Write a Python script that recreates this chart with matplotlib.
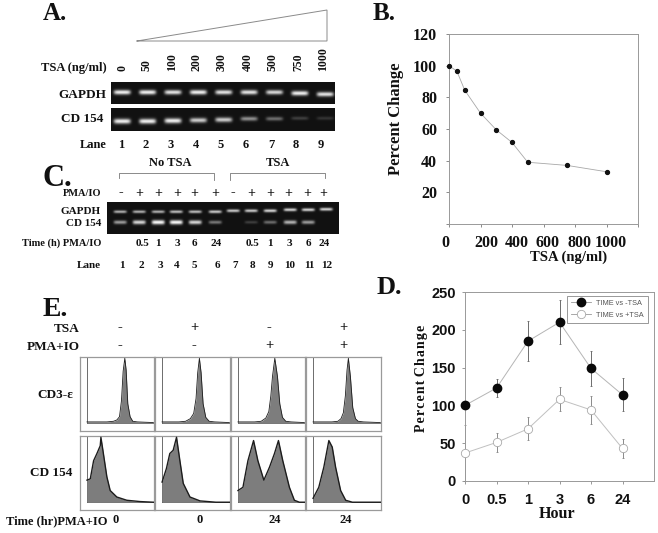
import numpy as np
import matplotlib
matplotlib.use("Agg")
import matplotlib.pyplot as plt
from matplotlib.transforms import ScaledTranslation

SERIF = "Liberation Serif"
SANS = "Liberation Sans"

# Panel A
tsa_doses = ["0", "50", "100", "200", "300", "400", "500", "750", "1000"]
lanes_a = ["1", "2", "3", "4", "5", "6", "7", "8", "9"]
gapdh_a = [0.95, 0.95, 0.9, 0.95, 0.9, 0.9, 0.85, 0.95, 0.9]
cd154_a = [0.95, 0.95, 0.95, 0.8, 0.8, 0.55, 0.4, 0.2, 0.15]

# Panel B
b_x = [0, 50, 100, 200, 300, 400, 500, 750, 1000]
b_y = [100, 96.5, 84.5, 70, 59.5, 51.5, 39, 37, 33]

# Panel C
c_signs = ["-", "+", "+", "+", "+", "+", "-", "+", "+", "+", "+", "+"]
c_times = ["0.5", "1", "3", "6", "24", "0.5", "1", "3", "6", "24"]
lanes_c = ["1", "2", "3", "4", "5", "6", "7", "8", "9", "10", "11", "12"]
gapdh_c = [0.7, 0.7, 0.7, 0.75, 0.75, 0.8, 0.8, 0.8, 0.85, 0.85, 0.85, 0.85]
cd154_c = [0.6, 0.85, 1.0, 1.0, 0.85, 0.45, 0.0, 0.2, 0.4, 0.7, 0.6, 0.0]

# Panel D
hours = ["0", "0.5", "1", "3", "6", "24"]
minus_tsa = [100, 123, 185, 210, 149, 114]
minus_err = [0, 12, 26, 29, 23, 22]
plus_tsa = [37, 51, 69, 108, 94, 43]
plus_err = [37, 12, 15, 16, 19, 12]

# Panel E
e_tsa = ["-", "+", "-", "+"]
e_pma = ["-", "-", "+", "+"]
e_times = ["0", "0", "24", "24"]
cd3_x = [
    [0, 300, 400, 450, 490, 520, 545, 570, 590, 615, 650, 690, 760, 1000],
    [0, 250, 350, 420, 470, 505, 530, 555, 580, 610, 650, 700, 780, 1000],
    [0, 250, 350, 420, 465, 495, 520, 555, 595, 630, 670, 720, 800, 1000],
    [0, 280, 370, 415, 450, 480, 505, 525, 555, 590, 630, 670, 750, 1000],
]
cd3_y = [
    [2, 2, 3, 5, 10, 35, 80, 100, 82, 30, 10, 3, 2, 1],
    [2, 2, 3, 7, 15, 38, 78, 100, 78, 30, 9, 3, 2, 1],
    [2, 2, 3, 8, 18, 42, 72, 100, 72, 30, 9, 3, 2, 1],
    [2, 2, 3, 7, 16, 42, 82, 100, 72, 24, 7, 3, 2, 1],
]
cd154_x = [
    [0, 50, 100, 150, 200, 210, 240, 300, 350, 450, 600, 800, 1000],
    [0, 65, 115, 165, 215, 265, 315, 415, 565, 800, 1000],
    [0, 75, 150, 235, 300, 390, 475, 550, 610, 675, 775, 850, 925, 1000],
    [0, 85, 160, 235, 285, 335, 410, 485, 585, 1000],
]
cd154_y = [
    [34, 36, 64, 75, 87, 100, 80, 39, 18, 8, 3, 1, 0],
    [31, 52, 75, 80, 100, 64, 29, 8, 2, 0, 0],
    [18, 23, 64, 95, 64, 34, 54, 75, 95, 64, 23, 3, 0, 0],
    [6, 23, 54, 95, 85, 54, 18, 3, 0, 0],
]

W, H = 658, 533
fig = plt.figure(figsize=(W / 100, H / 100), dpi=100, facecolor="white")


def px_axes(x0, y0, x1, y1, **kw):
    return fig.add_axes([x0 / W, 1 - y1 / H, (x1 - x0) / W, (y1 - y0) / H], **kw)


ov = px_axes(0, 0, W, H)
ov.set_xlim(0, W)
ov.set_ylim(H, 0)
ov.axis("off")


def T(x, y, s, size=9, ha="center", family=SERIF, rot=0, va="center", color="#111111", weight="bold"):
    ov.text(x, y, s, fontsize=size, ha=ha, va=va, family=family, rotation=rot,
            color=color, fontweight=weight, rotation_mode="anchor" if rot else "default")


def gel(x0, y0, x1, y1, rows):
    """rows: (lane x positions, band y positions, intensities, half width, half height)"""
    xs = np.arange(x0, x1, 0.5)
    ys = np.arange(y0, y1, 0.5)
    X, Y = np.meshgrid(xs, ys)
    img = np.zeros_like(X)
    for lx, ly, vals, hw, hh in rows:
        for a, b, v in zip(lx, ly, vals):
            h = hh * (0.55 + 0.45 * v)
            img += v * np.exp(-((X - a) / hw) ** 6) * np.exp(-((Y - b) / h) ** 2)
    img = np.clip(img, 0, 1)
    ov.imshow(img * 0.92 + 0.07, extent=(x0, x1, y1, y0), cmap="gray", vmin=0, vmax=1,
              aspect="auto", interpolation="bilinear", zorder=1)
    ov.set_xlim(0, W)
    ov.set_ylim(H, 0)


# ---------- A ----------
T(43, 14, "A.", 18, ha="left")
ov.plot([137, 327, 327, 137], [41, 10, 41, 41], color="#8a8a8a", lw=0.7, solid_joinstyle="miter")
T(107, 68, "TSA (ng/ml)", 9, ha="right")
xa = np.linspace(122, 325, 9)
for zx, s in zip([122, 147, 172, 197, 222, 248, 273, 298, 323], tsa_doses):
    T(zx, 71, s, 8.5, ha="left", rot=90)
gel(111, 82, 335, 104, [(xa, [92] * 7 + [93, 94], gapdh_a, 8.5, 2.4)])
gel(111, 108, 335, 131, [(xa, [121, 121, 120.5, 120, 119.5, 118.5, 118.5, 118, 118], cd154_a, 8.5, 2.6)])
T(106, 95, "GAPDH", 9.5, ha="right")
T(103, 119, "CD 154", 9.5, ha="right")
T(107, 145, "Lane", 9, ha="right")
for x, s in zip(np.linspace(121, 321, 9), lanes_a):
    T(x, 145, s, 9)

# ---------- B ----------
T(373, 14, "B.", 18, ha="left")
axb = px_axes(449, 34, 638, 224)
axb.plot(b_x, b_y, color="#a8a8a8", lw=0.6, zorder=2, clip_on=False)
axb.plot(b_x, b_y, ls="none", marker="o", ms=2.8, color="#111111", zorder=3, clip_on=False)
axb.set_xlim(0, 1200)
axb.set_ylim(0, 120)
axb.set_xticks([0, 200, 400, 600, 800, 1000, 1200])
axb.set_xticklabels(["0", "200", "400", "600", "800", "1000", ""], family=SERIF, fontweight="bold", fontsize=11.5, color="#111111")
axb.set_yticks([0, 20, 40, 60, 80, 100, 120])
axb.set_yticklabels(["", "20", "40", "60", "80", "100", "120"], family=SERIF, fontweight="bold", fontsize=11.5, color="#111111")
axb.tick_params(axis="x", length=2.5, width=0.6, color="#777777", pad=5.5)
axb.tick_params(axis="y", length=2, width=0.6, color="#777777", pad=6.5)
for lab, dx in zip(axb.get_xticklabels(), [-4, 6, 5, 4, 5, 4, 0]):
    lab.set_transform(lab.get_transform() + ScaledTranslation(dx / 100, 0, fig.dpi_scale_trans))
for sp in axb.spines.values():
    sp.set_linewidth(0.7)
    sp.set_color("#999999")
T(569, 257, "TSA (ng/ml)", 10.5)
T(396, 119, "Percent Change", 12, rot=90, va="center")

# ---------- C ----------
T(43, 178, "C.", 22, ha="left")
T(170, 163, "No TSA", 9)
T(278, 163, "TSA", 9)
ov.plot([119, 119, 214, 214], [178, 173, 173, 180], color="#777777", lw=0.6)
ov.plot([230, 230, 325, 325], [180, 173, 173, 178], color="#777777", lw=0.6)
T(101, 194, "PMA/IO", 7.5, ha="right")
for x, s in zip([121, 139, 158, 177, 194, 215, 233, 251, 270, 288, 307, 323], c_signs):
    T(x, 193, s, 10)
xc = [120, 139, 158, 176, 195, 215, 233, 251, 270, 290, 308, 326]
gel(107, 202, 339, 234, [
    (xc, [211.5] * 6 + [210.5, 210.5, 210.5, 209.5, 209.5, 209], gapdh_c, 6.5, 1.6),
    (xc, [222] * 12, cd154_c, 6.5, 2.2),
])
T(101, 212, "GAPDH", 8, ha="right")
T(101, 224, "CD 154", 8, ha="right")
T(101, 243, "Time (h) PMA/IO", 7.5, ha="right")
for x, s in zip([142, 158, 177, 194, 216, 252, 270, 289, 308, 324], c_times):
    T(x, 243, s, 8)
T(101, 265, "Lane", 8, ha="right")
for x, s in zip([122, 141, 160, 177, 194, 217, 235, 252, 271, 290, 309, 327], lanes_c):
    T(x, 265, s, 8)

# ---------- D ----------
T(377, 287, "D.", 19, ha="left")
axd = px_axes(465, 292, 654, 481)
pos = np.arange(len(hours))
axd.errorbar(pos, minus_tsa, yerr=minus_err, fmt="none", ecolor="#555555", elinewidth=0.6,
             capsize=1, capthick=0.5, clip_on=False, zorder=2)
axd.errorbar(pos, plus_tsa, yerr=plus_err, fmt="none", ecolor="#777777", elinewidth=0.6,
             capsize=1, capthick=0.5, clip_on=False, zorder=2)
axd.plot(pos[:5], minus_tsa[:5], color="#b5b5b5", lw=0.7, zorder=1)
axd.plot(pos, plus_tsa, color="#c0c0c0", lw=0.7, zorder=1)
axd.plot(pos[4:], minus_tsa[4:], color="#b5b5b5", lw=0.7, zorder=1)
axd.plot(pos, minus_tsa, ls="none", marker="o", ms=6, mfc="#0a0a0a", mec="#0a0a0a", clip_on=False, zorder=4)
axd.plot(pos, plus_tsa, ls="none", marker="o", ms=6, mfc="white", mec="#aaaaaa", mew=0.6, clip_on=False, zorder=4)
h1, = axd.plot([], [], color="#999999", lw=0.6, marker="o", ms=6, mfc="#0a0a0a", mec="#0a0a0a")
h2, = axd.plot([], [], color="#999999", lw=0.6, marker="o", ms=6, mfc="white", mec="#aaaaaa", mew=0.6)
leg = axd.legend([h1, h2], ["TIME vs -TSA", "TIME vs +TSA"], loc="upper left",
                 bbox_to_anchor=(102 / 189, 1 - 3.5 / 189), borderaxespad=0,
                 frameon=True, fancybox=False, edgecolor="#888888", framealpha=1,
                 handlelength=2.6, handletextpad=0.7, labelspacing=0.6, borderpad=0.6,
                 prop={"family": SANS, "size": 5.3})
leg.get_frame().set_linewidth(0.6)
for t in leg.get_texts():
    t.set_color("#555555")
axd.set_xlim(0, 6)
axd.set_ylim(0, 250)
axd.set_xticks(pos)
axd.set_xticklabels(hours, family=SANS, fontweight="bold", fontsize=10.5, color="#111111")
axd.set_yticks([0, 50, 100, 150, 200, 250])
axd.set_yticklabels(["0", "50", "100", "150", "200", "250"], family=SANS, fontweight="bold", fontsize=10.5, color="#111111")
axd.tick_params(axis="x", length=2, width=0.6, color="#888888", pad=6.7)
axd.tick_params(axis="y", length=2, width=0.6, color="#888888", pad=4.5)
for sp in axd.spines.values():
    sp.set_linewidth(0.7)
    sp.set_color("#999999")
T(421, 378, "P e r c e n t  C h a n g e".replace(" ", "\u200a").replace("\u200a\u200a", " "), 10, rot=90)
T(557, 514, "Hour", 11.5)
T(603, 357, "P<0,001", 9, ha="left")

# ---------- E ----------
T(43, 309, "E.", 20, ha="left")
T(80, 329, "TSA", 9.5, ha="right")
T(80, 347, "PMA+IO", 9.5, ha="right")
for x, a, b in zip([120, 194, 269, 343], e_tsa, e_pma):
    T(x, 328, a, 10.5)
    T(x, 346, b, 10.5)
T(73, 395, "CD3-\u03b5", 9.5, ha="right")
T(72, 473, "CD 154", 9.5, ha="right")
T(6, 521, "Time (hr)PMA+IO", 9, ha="left")
for x, s in zip([116, 200, 275, 346], e_times):
    T(x, 520, s, 9)

panel_x = [(80, 154), (155, 230), (231, 305), (306, 381)]
rows = [(357, 431, cd3_x, cd3_y), (436, 510, cd154_x, cd154_y)]
for y0, y1, xs_all, ys_all in rows:
    for (x0, x1), xs, ys in zip(panel_x, xs_all, ys_all):
        ax = px_axes(x0, y0, x1, y1)
        ax.fill_between(xs, ys, 0, color="#7d7d7d", lw=0, zorder=2)
        ax.plot(xs, ys, color="#1c1c1c", lw=1.0 if y0 > 400 else 0.6, zorder=3)
        ax.plot([0, 0], [0, 102], color="#555555", lw=0.6, zorder=1)
        ax.plot([0, 1010], [0, 0], color="#555555", lw=0.6, zorder=1)
        ax.set_xlim(-105, 1010)
        ax.set_ylim(-12, 102)
        ax.set_xticks([])
        ax.set_yticks([])
        for sp in ax.spines.values():
            sp.set_color("#9a9a9a")
            sp.set_linewidth(0.9)

fig.savefig("out.png", dpi=100, facecolor="white")
